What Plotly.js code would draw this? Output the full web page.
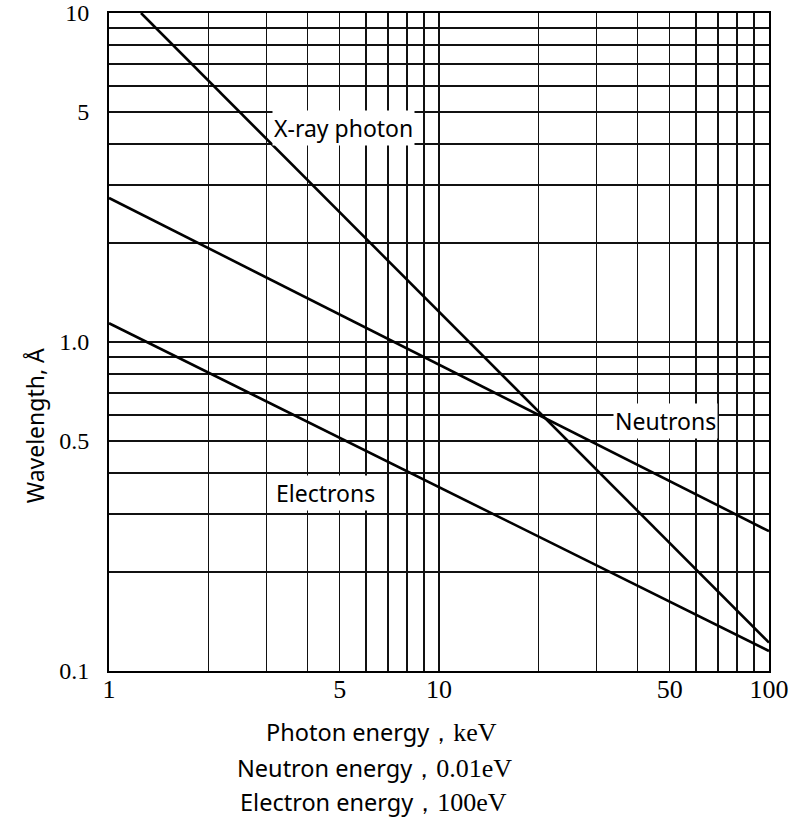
<!DOCTYPE html>
<html>
<head>
<meta charset="utf-8">
<script src="https://cdn.plot.ly/plotly-3.0.1.min.js"></script>
<style>html,body{margin:0;padding:0;background:#fff;}</style>
</head>
<body>
<div id="chart" style="width:792px;height:818px;"></div>
<script>
// Energy (x, in keV / 0.01 eV / 100 eV units) and wavelength (Å) endpoints
const xrayEnergy = [1.25, 100];
const xrayWavelength = [10, 0.122];
const neutronEnergy = [1, 100];
const neutronWavelength = [2.74, 0.266];
const electronEnergy = [1, 100];
const electronWavelength = [1.14, 0.115];

const xTickVals = [1,2,3,4,5,6,7,8,9,10,20,30,40,50,60,70,80,90,100];
const xTickText = ['1','','','','5','','','','','10','','','','50','','','','','100'];
const yTickVals = [0.1,0.2,0.3,0.4,0.5,0.6,0.7,0.8,0.9,1,2,3,4,5,6,7,8,9,10];
const yTickText = ['0.1','','','','0.5','','','','','1.0','','','','5','','','','','10'];

const lineStyle = {color: '#000', width: 2.6};
const traces = [
  {x: xrayEnergy, y: xrayWavelength, mode: 'lines', line: lineStyle, name: 'X-ray photon', hoverinfo: 'skip'},
  {x: neutronEnergy, y: neutronWavelength, mode: 'lines', line: lineStyle, name: 'Neutrons', hoverinfo: 'skip'},
  {x: electronEnergy, y: electronWavelength, mode: 'lines', line: lineStyle, name: 'Electrons', hoverinfo: 'skip'}
];

const sans = 'Noto Sans, Open Sans, DejaVu Sans, sans-serif';
const serif = 'Liberation Serif, DejaVu Serif, serif';
const ser = s => '<span style="font-family:Liberation Serif, serif;font-size:26px">' + s + '</span>';

const label = (x, y, text) => ({xref: 'x', yref: 'y', x: x, y: y, text: text, showarrow: false,
  xanchor: 'center', yanchor: 'middle',
  font: {family: sans, size: 23, color: '#000'}, bgcolor: '#fff', borderpad: 1});
const below = (x, y, text) => ({xref: 'paper', yref: 'paper', x: x, y: y, text: text, showarrow: false,
  xanchor: 'center', yanchor: 'middle', font: {family: sans, size: 23.5, color: '#000'}});

const layout = {
  width: 792, height: 818,
  margin: {l: 109, r: 23, t: 13, b: 147, pad: 0},
  paper_bgcolor: '#fff', plot_bgcolor: '#fff',
  showlegend: false,
  font: {family: sans, color: '#000'},
  xaxis: {
    type: 'log', range: [0, 2],
    tickvals: xTickVals, ticktext: xTickText,
    showgrid: true, gridcolor: '#111', gridwidth: 1.5,
    showline: true, mirror: true, linecolor: '#000', linewidth: 2,
    ticks: '', zeroline: false, ticklabelstandoff: -6,
    tickfont: {family: serif, size: 26, color: '#000'}
  },
  yaxis: {
    type: 'log', range: [-1, 1],
    tickvals: yTickVals, ticktext: yTickText,
    showgrid: true, gridcolor: '#111', gridwidth: 1.5,
    showline: true, mirror: true, linecolor: '#000', linewidth: 2,
    ticks: '', zeroline: false, ticklabelstandoff: 13,
    tickfont: {family: serif, size: 24, color: '#000'}
  },
  annotations: [
    label(0.712, 0.650, 'X-ray photon'),
    label(1.685, -0.240, 'Neutrons'),
    label(0.655, -0.459, 'Electrons'),
    {xref: 'paper', yref: 'paper', x: -0.112, y: 0.372, xanchor: 'center', yanchor: 'middle',
     text: 'Wavelength, Å', textangle: -90,
     showarrow: false, font: {family: sans, size: 23, color: '#000'}},
    below(0.4136, -0.0927, 'Photon energy，' + ser('keV')),
    below(0.4030, -0.1474, 'Neutron energy，' + ser('0.01eV')),
    below(0.4015, -0.1985, 'Electron energy，' + ser('100eV'))
  ]
};

Plotly.newPlot('chart', traces, layout, {displayModeBar: false, staticPlot: true});
</script>
</body>
</html>
